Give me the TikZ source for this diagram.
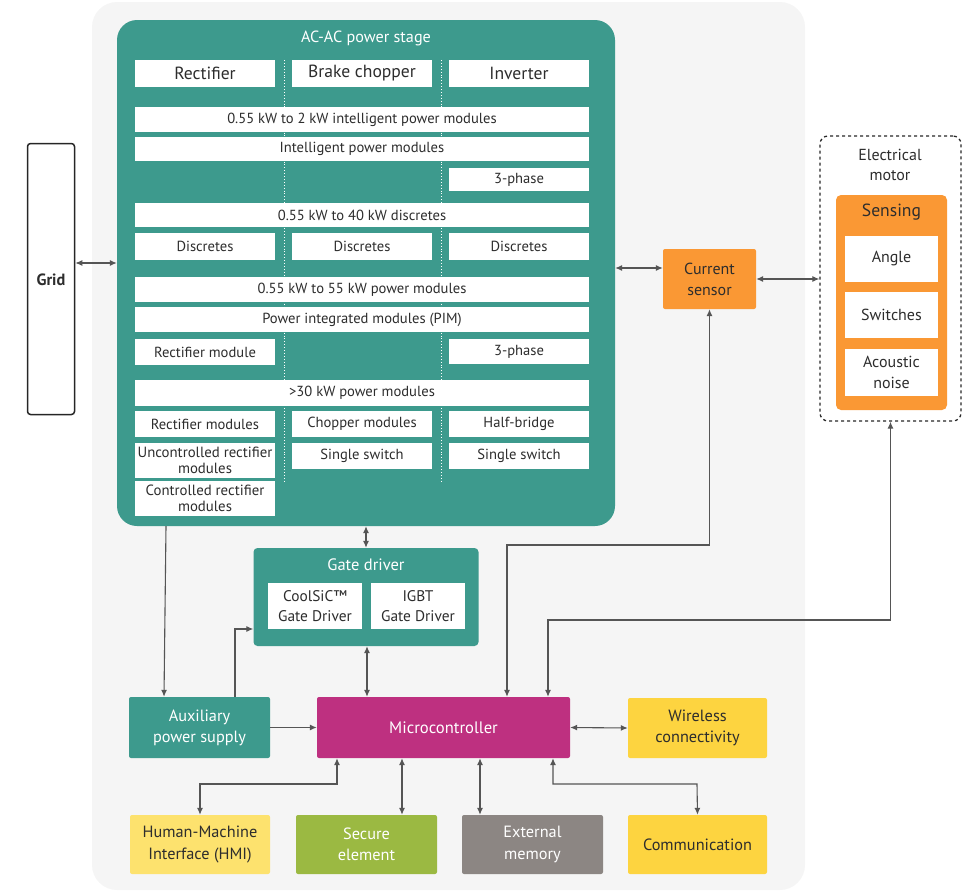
\documentclass[tikz,border=0pt]{standalone}
\usepackage{fontspec}
\setmainfont{PT Sans}
\usetikzlibrary{arrows.meta,calc}
\definecolor{tealc}{RGB}{61,154,141}
\definecolor{orangec}{RGB}{250,152,52}
\definecolor{magc}{RGB}{190,48,128}
\definecolor{yelc}{RGB}{253,212,64}
\definecolor{lyelc}{RGB}{253,226,110}
\definecolor{greenc}{RGB}{155,185,66}
\definecolor{greyc}{RGB}{140,134,131}
\definecolor{bgc}{RGB}{245,245,245}
\definecolor{txtc}{RGB}{45,45,45}
\definecolor{linec}{RGB}{85,85,85}
\tikzset{
  fs/.style={font=\fontsize{#1}{\fpeval{#1*1.3}}\selectfont},
  wbox/.style={fill=white, draw=none, text=txtc, inner sep=0pt, align=center, fs=14.6},
  colbox/.style={wbox, minimum width=140pt},
  rowbox/.style={wbox, minimum width=454pt},
  colorbox/.style={draw=none, inner sep=0pt, align=center, rounded corners=2pt, fs=16.3},
  lbl/.style={inner sep=0pt, align=center},
  conn/.style={draw=linec, line width=1.1pt},
  one/.style={conn, -{Latex[length=7pt,width=6pt]}},
  two/.style={conn, {Latex[length=7pt,width=6pt]}-{Latex[length=7pt,width=6pt]}},
  sep/.style={draw=white, line width=0.9pt, dotted}
}
\begin{document}
\begin{tikzpicture}[x=1pt,y=-1pt]
\useasboundingbox (0,0) rectangle (964,894);
% background
\node[draw=none, fill=bgc, rounded corners=25pt, minimum width=713pt, minimum height=888pt, inner sep=0pt] (bg) at (448.5,446) {};
% power stage
\node[draw=none, fill=tealc, rounded corners=20pt, minimum width=498pt, minimum height=506pt, inner sep=0pt] (ps) at (366,273) {};
\node[lbl, text=white, fs=16.2] (pstitle) at (366,38) {AC-AC power stage};
\draw[sep] (284,60) -- (284,483);
\draw[sep] (441,60) -- (441,483);
\node[colbox, minimum height=27pt, fs=17.6] (rect) at (205,73.5) {Rectifier};
\node[colbox, minimum height=27pt, fs=17.6] (brake) at (362,73.5) {Brake chopper};
\node[colbox, minimum height=27pt, fs=17.6] (inv) at (519,73.5) {Inverter};
\node[rowbox, minimum height=25pt] (ipmA) at (362,119.5) {0.55 kW to 2 kW intelligent power modules};
\node[rowbox, minimum height=24pt] (ipmB) at (362,149) {Intelligent power modules};
\node[colbox, minimum height=23pt] (phA) at (519,179.5) {3-phase};
\node[rowbox, minimum height=24pt] (disA) at (362,215) {0.55 kW to 40 kW discretes};
\node[colbox, minimum height=27pt] (dis1) at (205,246.5) {Discretes};
\node[colbox, minimum height=27pt] (dis2) at (362,246) {Discretes};
\node[colbox, minimum height=27pt] (dis3) at (519,246) {Discretes};
\node[rowbox, minimum height=25pt] (pmA) at (362,289.5) {0.55 kW to 55 kW power modules};
\node[rowbox, minimum height=25pt] (pim) at (362,319.5) {Power integrated modules (PIM)};
\node[colbox, minimum height=26pt] (recm) at (205,352) {Rectifier module};
\node[colbox, minimum height=25pt] (phB) at (519,351.5) {3-phase};
\node[rowbox, minimum height=26pt] (hpA) at (362,393) {>30 kW power modules};
\node[colbox, minimum height=26pt] (rms) at (205,424) {Rectifier modules};
\node[colbox, minimum height=26pt] (chm) at (362,424) {Chopper modules};
\node[colbox, minimum height=26pt] (hb) at (519,424) {Half-bridge};
\node[colbox, minimum height=35pt, font=\fontsize{14.8}{16.5}\selectfont] (ucr) at (205,460.5) {Uncontrolled rectifier\\modules};
\node[colbox, minimum height=26pt] (ss1) at (362,456) {Single switch};
\node[colbox, minimum height=26pt] (ss2) at (519,456) {Single switch};
\node[colbox, minimum height=35pt, font=\fontsize{14.8}{16.5}\selectfont] (cr) at (205,498.5) {Controlled rectifier\\modules};
% grid
\node[draw=black!85, line width=1.5pt, fill=white, rounded corners=3pt, minimum width=47pt, minimum height=271pt, inner sep=0pt] (grid) at (51,279) {};
\node[lbl, text=txtc, fs=16.3] (gridtxt) at (51,280) {\bfseries Grid};
% current sensor
\node[colorbox, fill=orangec, minimum width=93pt, minimum height=60pt, text=txtc, fs=16] (cs) at (709.5,279) {Current\\sensor};
% motor
\node[draw=black!85, dashed, line width=1.3pt, rounded corners=8pt, minimum width=141pt, minimum height=285pt, inner sep=0pt] (motor) at (890.5,278.5) {};
\node[lbl, text=txtc, fs=16] (motortxt) at (890,165) {Electrical\\motor};
\node[colorbox, fill=orangec, rounded corners=5pt, minimum width=111pt, minimum height=215pt] (sens) at (891.5,302.5) {};
\node[lbl, text=txtc, fs=17.6] (senstxt) at (891.5,212) {Sensing};
\node[wbox, minimum width=93pt, minimum height=46pt, fs=16] (angle) at (891.5,258.5) {Angle};
\node[wbox, minimum width=93pt, minimum height=46pt, fs=16] (sw) at (891.5,315) {Switches};
\node[wbox, minimum width=93pt, minimum height=47pt, fs=16] (ac) at (891.5,372.5) {Acoustic\\noise};
% gate driver
\node[colorbox, fill=tealc, rounded corners=4pt, minimum width=225pt, minimum height=98pt] (gd) at (366,597) {};
\node[lbl, text=white, fs=16.5] (gdtxt) at (366,565) {Gate driver};
\node[wbox, minimum width=94pt, minimum height=46pt, fs=15.4] (cool) at (315,606) {CoolSiC™\\Gate Driver};
\node[wbox, minimum width=94pt, minimum height=46pt, fs=15.4] (igbt) at (418,606) {IGBT\\Gate Driver};
% lower blocks
\node[colorbox, fill=tealc, text=white, minimum width=141pt, minimum height=61pt] (aux) at (199.5,727.5) {Auxiliary\\power supply};
\node[colorbox, fill=magc, text=white, minimum width=253pt, minimum height=61pt, fs=16.6] (mc) at (443.5,727.5) {Microcontroller};
\node[colorbox, fill=yelc, text=txtc, minimum width=139pt, minimum height=60pt] (wl) at (697.5,728) {Wireless\\connectivity};
\node[colorbox, fill=lyelc, text=txtc, minimum width=140pt, minimum height=59pt] (hmi) at (200,844.5) {Human-Machine\\Interface (HMI)};
\node[colorbox, fill=greenc, text=white, minimum width=141pt, minimum height=59pt] (se) at (366.5,844.5) {Secure\\element};
\node[colorbox, fill=greyc, text=white, minimum width=141pt, minimum height=59pt] (em) at (532.5,844.5) {External\\memory};
\node[colorbox, fill=yelc, text=txtc, minimum width=139pt, minimum height=59pt] (comm) at (697.5,844.5) {Communication};
% connectors
\draw[two] (grid.east |- 0,263) -- (ps.west |- 0,263);
\draw[two] (ps.east |- 0,268) -- (cs.west |- 0,268);
\draw[two] (cs.east) -- (motor.west |- cs.east);
\draw[two] (ps.south -| gd.north) -- (gd.north);
\draw[two] (gd.south -| 367,0) -- (mc.north -| 367,0);
\draw[one] (ps.south -| 166,0) -- (aux.north -| 164,0);
\draw[one] (aux.north -| 235,0) |- (gd.west |- 0,629);
\draw[one] (aux.east) -- (mc.west);
\draw[two] (mc.east) -- (wl.west);
\draw[two] (cs.south) |- (507,545) -- (mc.north -| 507,0);
\draw[two] (motor.south) |- (548,620) -- (mc.north -| 548,0);
\draw[two] (mc.south -| 337,0) |- (200,784) -- (hmi.north);
\draw[two] (mc.south -| 402,0) -- (se.north -| 402,0);
\draw[two] (mc.south -| 480,0) -- (em.north -| 480,0);
\draw[two] (mc.south -| 553,0) |- (697,784) -- (comm.north);
\end{tikzpicture}
\end{document}
